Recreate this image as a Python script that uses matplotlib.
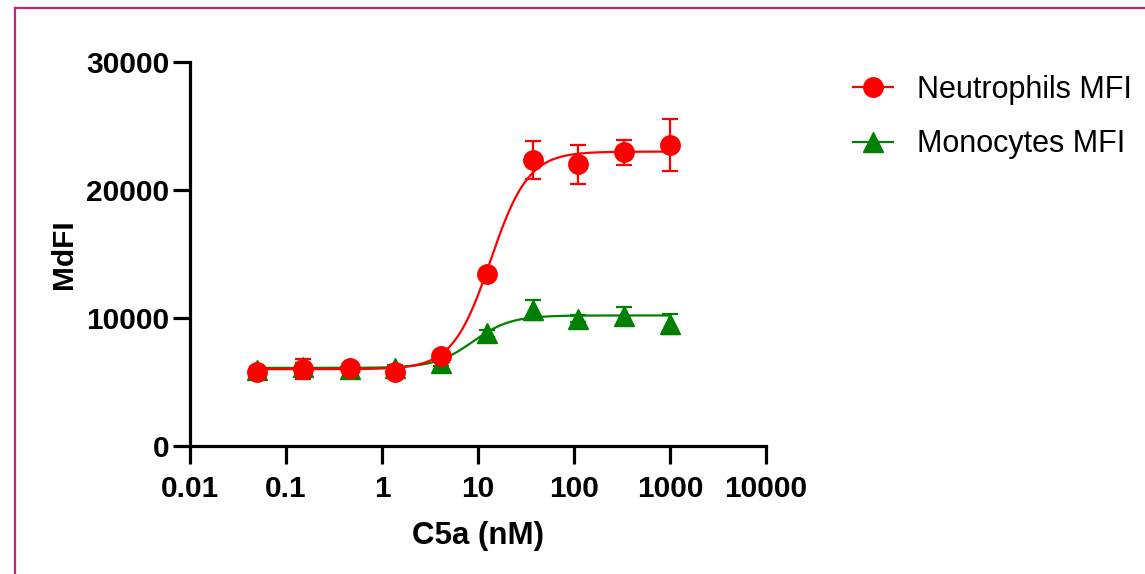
"""Dose-response of C5a on neutrophils and monocytes (MdFI)."""
import matplotlib
matplotlib.use('Agg')
import matplotlib.pyplot as plt
import numpy as np
from matplotlib.lines import Line2D

plt.rcParams['font.family'] = ['Liberation Sans', 'DejaVu Sans']

# C5a concentrations (nM), 3-fold dilutions
conc = [0.05, 0.15, 0.46, 1.37, 4.1, 12.3, 37, 111, 333, 1000]

neut_mfi = [5760, 6020, 6120, 5800, 7030, 13460, 22340, 22000, 22940, 23520]
neut_err = [150, 750, 300, 200, 300, 400, 1500, 1550, 1000, 2000]

mono_mfi = [5950, 6200, 6000, 6100, 6450, 8800, 10630, 9950, 10160, 9550]
mono_err = [200, 300, 200, 200, 200, 300, 800, 300, 680, 800]

# four-parameter logistic fits: bottom, top, EC50, hill
neut_fit = (6000, 23000, 13.5, 2.2)
mono_fit = (6100, 10200, 8.8, 2.2)


def logistic4(x, bottom, top, ec50, hill):
    return bottom + (top - bottom) / (1 + (ec50 / x) ** hill)


fig = plt.figure(figsize=(11.45, 5.74), dpi=100)
ax = fig.add_axes([190 / 1145, 1 - 446 / 574, 576 / 1145, 384 / 574])

xs = np.logspace(np.log10(conc[0]), np.log10(conc[-1]), 400)

series = [
    ('Monocytes MFI', mono_mfi, mono_err, mono_fit, '#008000', '^', 2),
    ('Neutrophils MFI', neut_mfi, neut_err, neut_fit, '#ff0000', 'o', 3),
]
handles = {}
for name, ys, err, fit, col, mk, z in series:
    ax.plot(xs, logistic4(xs, *fit), color=col, lw=1.6, zorder=z)
    ax.errorbar(conc, ys, yerr=err, fmt='none', ecolor=col, elinewidth=1.6,
                capsize=6, capthick=1.6, zorder=z)
    ax.plot(conc, ys, ls='none', marker=mk, ms=14, color=col, mec=col,
            zorder=z + 0.5, clip_on=False)
    handles[name] = Line2D([], [], color=col, lw=1.6, marker=mk, ms=14)

ax.set_xscale('log')
ax.set_xlim(0.01, 10000)
ax.set_ylim(0, 30000)
ax.set_xticks([0.01, 0.1, 1, 10, 100, 1000, 10000])
ax.set_xticklabels(['0.01', '0.1', '1', '10', '100', '1000', '10000'])
ax.minorticks_off()
ax.set_yticks([0, 10000, 20000, 30000])
ax.set_yticklabels(['0', '10000', '20000', '30000'])

for s in ('top', 'right'):
    ax.spines[s].set_visible(False)
for s in ('left', 'bottom'):
    ax.spines[s].set_linewidth(2.3)
ax.tick_params(axis='both', direction='out', length=12, width=2.3,
               labelsize=21.5)
ax.tick_params(axis='y', pad=3)
ax.tick_params(axis='x', length=13, pad=8)
for lab in ax.get_xticklabels() + ax.get_yticklabels():
    lab.set_fontweight('bold')

ax.set_xlabel('C5a (nM)', fontsize=22.5, fontweight='bold', labelpad=13)
ax.set_ylabel('MdFI', fontsize=21.5, fontweight='bold', labelpad=6)

fig.legend([handles['Neutrophils MFI'], handles['Monocytes MFI']],
           ['Neutrophils MFI', 'Monocytes MFI'],
           loc='upper left', bbox_to_anchor=(853 / 1145, 1 - 75 / 574),
           frameon=False, fontsize=22, handlelength=1.3, handletextpad=0.8,
           labelspacing=0.8, borderpad=0, borderaxespad=0)

# magenta frame (top and left edges)
frame_col = '#c2257a'
fig.add_artist(Line2D([15 / 1145, 1], [1 - 8 / 574, 1 - 8 / 574],
                      transform=fig.transFigure, color=frame_col, lw=1.6))
fig.add_artist(Line2D([15 / 1145, 15 / 1145], [0, 1 - 8 / 574],
                      transform=fig.transFigure, color=frame_col, lw=1.6))

fig.savefig('out.png', dpi=100)
